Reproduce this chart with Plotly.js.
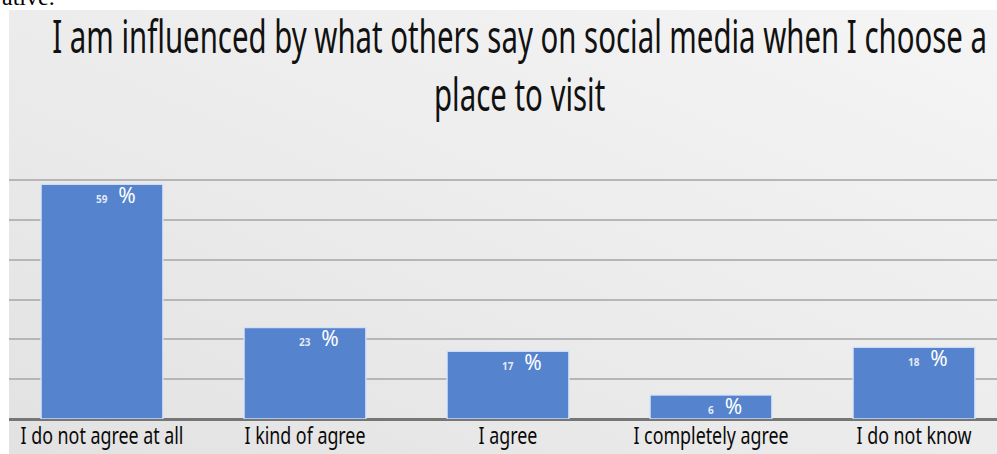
<!DOCTYPE html>
<html><head><meta charset="utf-8">
<script src="https://cdn.plot.ly/plotly-3.0.1.min.js"></script>
<style>
html,body{margin:0;padding:0;background:#fff;overflow:hidden;}
#chart{width:997px;height:454px;
background: linear-gradient(to top right, #e2e2e2 0%, #ebebeb 45%, #f5f5f5 100%) 9px 10px / 988px 444px no-repeat, #ffffff;}
</style></head>
<body>
<div id="chart"></div>
<script>
const categories = ["I do not agree at all", "I kind of agree", "I agree", "I completely agree", "I do not know"];
const values = [59, 23, 17, 6, 18];
const titleLines = ["I am influenced by what others say on social media when I choose a", "place to visit"];
const fragmentText = "ative.";

const F = "'Noto Sans', 'Open Sans', 'DejaVu Sans', sans-serif";

const labelAnnotations = categories.map((c, i) => ({
  x: c, y: values[i], xref: 'x', yref: 'y',
  text: '<span style="font-size:10px;font-weight:bold;fill:rgba(255,255,255,0.85)">' + values[i] + '</span>  %',
  showarrow: false, xanchor: 'center', yanchor: 'middle',
  xshift: 14, yshift: -11,
  font: {family: F, size: 21, color: '#ffffff'}
}));

const titleAnnotation = {text: titleLines.join('<br>'), x: 0.5167, y: 1.474,
  xref: 'paper', yref: 'paper', showarrow: false, align: 'center',
  xanchor: 'center', yanchor: 'middle', font: {family: F, size: 45, color: '#111111'}};

const fragAnnotation = {text: fragmentText, xref: 'paper', yref: 'paper', x: -0.0091, y: 1.696,
  xanchor: 'left', yanchor: 'bottom', showarrow: false,
  font: {family: "'Liberation Serif', 'Times New Roman', serif", size: 24, color: '#000'}};

const trace = {
  type: 'bar', x: categories, y: values, width: 0.6,
  marker: {color: '#5683ce', line: {color: 'rgba(215,228,248,0.9)', width: 1.5}},
  hoverinfo: 'none'
};

const layout = {
  width: 997, height: 454,
  margin: {l: 9, r: 0, t: 179, b: 35, pad: 0},
  paper_bgcolor: 'rgba(0,0,0,0)', plot_bgcolor: 'rgba(0,0,0,0)',
  showlegend: false,
  xaxis: {type: 'category', range: [-0.458, 4.409], showgrid: false, zeroline: false,
    showline: false, ticks: '', automargin: false, tickangle: 0, ticklabelstandoff: 0,
    tickfont: {family: F, size: 24, color: '#0a0a0a'}},
  yaxis: {range: [0, 60.3], dtick: 10, showticklabels: false, automargin: false,
    showgrid: true, gridcolor: '#b6b6b6', gridwidth: 2,
    zeroline: true, zerolinecolor: '#767676', zerolinewidth: 3},
  annotations: [fragAnnotation, titleAnnotation].concat(labelAnnotations)
};

function squeeze(el, sx) {
  const b = el.getBBox();
  const cx = b.x + b.width / 2;
  el.setAttribute('transform', (el.getAttribute('transform') || '') +
    ' translate(' + cx + ',0) scale(' + sx + ',1) translate(' + (-cx) + ',0)');
}

Plotly.newPlot('chart', [trace], layout, {displayModeBar: false, staticPlot: true}).then(gd => {
  // condensed look of the original typeface
  const t = gd.querySelector('g.annotation[data-index="1"] text');
  squeeze(t, 935 / t.getBBox().width);
  const ticks = gd.querySelectorAll('.xtick text');
  const sxTick = 163 / ticks[0].getBBox().width;
  ticks.forEach(el => squeeze(el, sxTick));
});
</script>
</body></html>
